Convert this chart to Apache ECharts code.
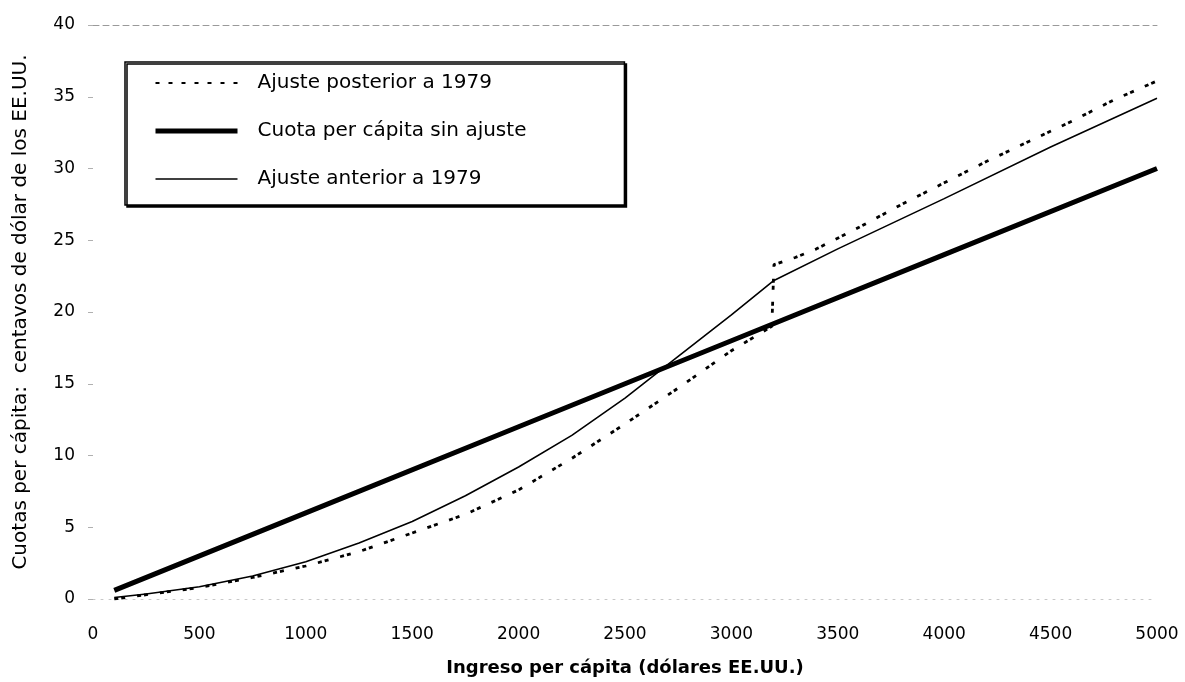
<!DOCTYPE html>
<html>
<head>
<meta charset="utf-8">
<script src="https://cdn.jsdelivr.net/npm/echarts@6/dist/echarts.min.js"></script>
<style>
  html, body { margin: 0; padding: 0; background: #fff; }
  #chart { width: 1185px; height: 682px; }
</style>
</head>
<body>
<div id="chart"></div>
<script>
// ---- Data ----
const xTicks = [0, 500, 1000, 1500, 2000, 2500, 3000, 3500, 4000, 4500, 5000];
const yTicks = [0, 5, 10, 15, 20, 25, 30, 35, 40];

const seriesNames = ['Ajuste posterior a 1979', 'Cuota per cápita sin ajuste', 'Ajuste anterior a 1979'];

// Ajuste posterior a 1979 (dotted)
const xPosterior = [100, 300, 500, 750, 1000, 1250, 1500, 1750, 2000, 2250, 2500, 2750, 3000, 3190, 3200, 3300, 3400, 3600, 3800, 4000, 4200, 4400, 4600, 4800, 5000];
const posterior  = [0.0, 0.4, 0.8, 1.5, 2.3, 3.3, 4.6, 5.9, 7.6, 9.8, 12.2, 14.7, 17.3, 19.0, 23.3, 23.8, 24.4, 25.9, 27.5, 29.0, 30.5, 31.9, 33.3, 34.8, 36.1];

// Cuota per cápita sin ajuste (thick)
const xSinAjuste = [100, 1000, 2000, 3000, 4000, 5000];
const sinAjuste  = [0.6, 6.0, 12.0, 18.0, 24.0, 30.0];

// Ajuste anterior a 1979 (thin)
const xAnterior = [100, 250, 500, 750, 1000, 1250, 1500, 1750, 2000, 2250, 2500, 2750, 3000, 3200, 3500, 4000, 4500, 5000];
const anterior  = [0.1, 0.35, 0.85, 1.6, 2.6, 3.9, 5.4, 7.2, 9.2, 11.4, 14.0, 16.9, 19.8, 22.2, 24.4, 27.9, 31.5, 34.9];

const pairs = (xs, ys) => xs.map((x, i) => [x, ys[i]]);

const FONT = '"DejaVu Sans", "Liberation Sans", Arial, sans-serif';

const chart = echarts.init(document.getElementById('chart'), null, { renderer: 'canvas' });

chart.setOption({
  animation: false,
  backgroundColor: '#ffffff',
  textStyle: { fontFamily: FONT, color: '#000' },
  grid: { left: 93, right: 28, top: 25, bottom: 80, containLabel: false },
  xAxis: [{
    type: 'value',
    position: 'bottom',
    min: xTicks[0],
    max: xTicks[xTicks.length - 1],
    interval: xTicks[1] - xTicks[0],
    name: 'Ingreso per cápita (dólares EE.UU.)',
    nameLocation: 'middle',
    nameGap: 60,
    nameTextStyle: { fontFamily: FONT, fontSize: 18, fontWeight: 'bold', color: '#000' },
    axisLine: { show: true, lineStyle: { color: '#c8c8c8', width: 1, type: [2, 6] } },
    axisTick: { show: false },
    splitLine: { show: false },
    axisLabel: { fontFamily: FONT, fontSize: 17, color: '#000', margin: 27, formatter: v => String(v) }
  }, {
    type: 'value',
    position: 'top',
    min: xTicks[0],
    max: xTicks[xTicks.length - 1],
    interval: xTicks[1] - xTicks[0],
    axisLine: { show: true, lineStyle: { color: '#9a9a9a', width: 1, type: [6, 4] } },
    axisTick: { show: false },
    axisLabel: { show: false },
    splitLine: { show: false }
  }],
  yAxis: {
    type: 'value',
    min: yTicks[0],
    max: yTicks[yTicks.length - 1],
    interval: yTicks[1] - yTicks[0],
    name: 'Cuotas per cápita:  centavos de dólar de los EE.UU.',
    nameLocation: 'middle',
    nameGap: 62,
    nameTextStyle: { fontFamily: FONT, fontSize: 20, color: '#000' },
    axisLine: { show: false },
    axisTick: { show: true, length: 5, lineStyle: { color: '#b0b0b0', width: 1 } },
    splitLine: { show: false },
    axisLabel: { fontFamily: FONT, fontSize: 17, color: '#000', margin: 18, formatter: v => String(v) }
  },
  legend: {
    orient: 'vertical',
    left: 125,
    top: 62,
    padding: [9, 98, 14, 28],
    itemGap: 24,
    itemWidth: 82,
    itemHeight: 24,
    backgroundColor: '#ffffff',
    borderColor: '#000',
    borderWidth: 1.5,
    borderRadius: 0,
    shadowColor: '#000',
    shadowBlur: 0,
    shadowOffsetX: 2,
    shadowOffsetY: 2,
    itemStyle: { color: 'rgba(0,0,0,0)', borderWidth: 0, opacity: 0 },
    textStyle: { fontFamily: FONT, fontSize: 20, color: '#000', padding: [0, 0, 0, 15], lineHeight: 24 },
    data: [
      { name: seriesNames[0], lineStyle: { type: [4, 9], width: 2 }, itemStyle: { opacity: 0 } },
      { name: seriesNames[1], lineStyle: { type: 'solid', width: 5 }, itemStyle: { opacity: 0 } },
      { name: seriesNames[2], lineStyle: { type: 'solid', width: 1.6 }, itemStyle: { opacity: 0 } }
    ]
  },
  series: [{
    name: seriesNames[0],
    type: 'line',
    data: pairs(xPosterior, posterior),
    showSymbol: false,
    symbol: 'none',
    lineStyle: { color: '#000', width: 2.8, type: [4, 3, 4, 12] },
    itemStyle: { color: '#000' },
    z: 3
  }, {
    name: seriesNames[1],
    type: 'line',
    data: pairs(xSinAjuste, sinAjuste),
    showSymbol: false,
    symbol: 'none',
    lineStyle: { color: '#000', width: 5 },
    itemStyle: { color: '#000' },
    z: 2
  }, {
    name: seriesNames[2],
    type: 'line',
    data: pairs(xAnterior, anterior),
    showSymbol: false,
    symbol: 'none',
    lineStyle: { color: '#000', width: 1.6 },
    itemStyle: { color: '#000' },
    z: 4
  }]
});
</script>
</body>
</html>
